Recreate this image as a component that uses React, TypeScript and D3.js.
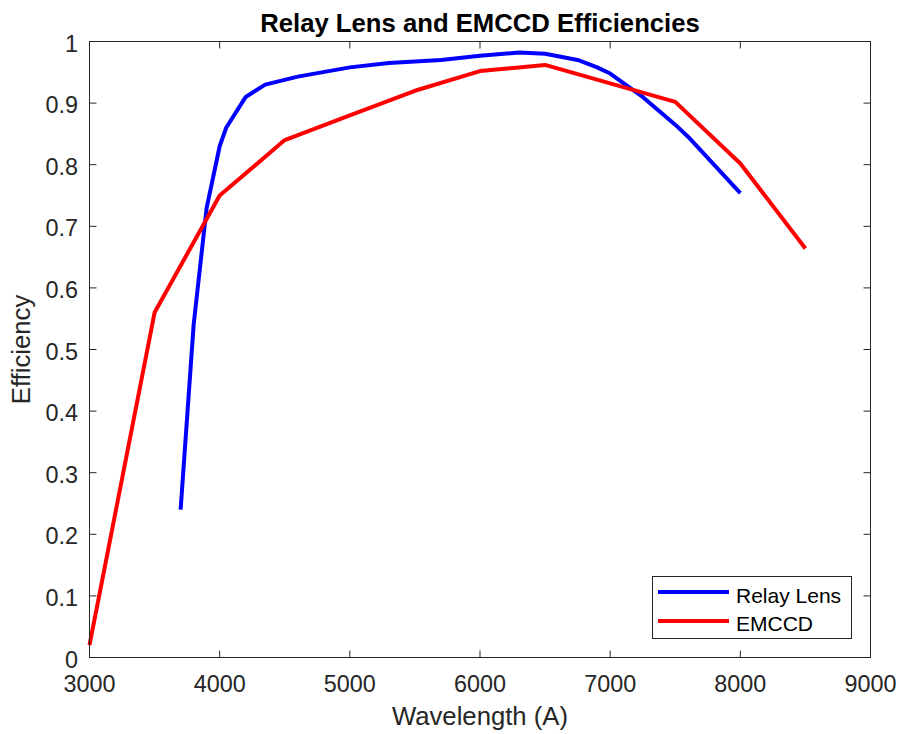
import React from "react";
import * as d3 from "d3";

const relayWavelength = [3700, 3800, 3900, 4000, 4050, 4200, 4350, 4600, 5000, 5300, 5700, 6000, 6300, 6500, 6750, 6900, 7000, 7250, 7500, 7600, 8000];
const relayEfficiency = [0.24, 0.54, 0.73, 0.83, 0.86, 0.91, 0.93, 0.943, 0.958, 0.965, 0.970, 0.977, 0.982, 0.980, 0.970, 0.958, 0.948, 0.91, 0.865, 0.845, 0.754];

const emccdWavelength = [3000, 3500, 4000, 4500, 5000, 5500, 6000, 6500, 7500, 8000, 8500];
const emccdEfficiency = [0.02, 0.56, 0.75, 0.84, 0.88, 0.92, 0.952, 0.962, 0.902, 0.802, 0.664];

const xTicks = [3000, 4000, 5000, 6000, 7000, 8000, 9000];
const yTicks = [0, 0.1, 0.2, 0.3, 0.4, 0.5, 0.6, 0.7, 0.8, 0.9, 1];

const seriesNames = ["Relay Lens", "EMCCD"];
const seriesColors = ["#0000FF", "#FF0000"];

const W = 899;
const H = 734;
const left = 89.5;
const right = 870.5;
const top = 41.5;
const bottom = 657.5;
const axisColor = "#262626";
const font = "'Liberation Sans', Arial, Helvetica, sans-serif";

export default function App() {
  const x = d3.scaleLinear().domain([3000, 9000]).range([left, right]);
  const y = d3.scaleLinear().domain([0, 1]).range([bottom, top]);
  const line = d3
    .line<[number, number]>()
    .x((d) => x(d[0]))
    .y((d) => y(d[1]));

  const relay: [number, number][] = relayWavelength.map((w, i) => [w, relayEfficiency[i]]);
  const emccd: [number, number][] = emccdWavelength.map((w, i) => [w, emccdEfficiency[i]]);
  const tickLen = 7;

  const legX = 652.5;
  const legY = 576.5;
  const legW = 199;
  const legH = 62;

  return (
    <div style={{ position: "fixed", left: 0, top: 0, width: W, height: H, overflow: "hidden" }}>
      <svg width={W} height={H} style={{ display: "block", background: "#fff" }} fontFamily={font}>
        <rect x={0} y={0} width={W} height={H} fill="#fff" />
        {/* series */}
        <path d={line(relay) || ""} fill="none" stroke={seriesColors[0]} strokeWidth={4} strokeLinejoin="round" />
        <path d={line(emccd) || ""} fill="none" stroke={seriesColors[1]} strokeWidth={4} strokeLinejoin="round" />

        {/* axes box */}
        <rect x={left} y={top} width={right - left} height={bottom - top} fill="none" stroke={axisColor} strokeWidth={1} />
        {xTicks.map((t) => (
          <g key={"xt" + t}>
            <line x1={x(t)} x2={x(t)} y1={bottom} y2={bottom - tickLen} stroke={axisColor} />
            <line x1={x(t)} x2={x(t)} y1={top} y2={top + tickLen} stroke={axisColor} />
            <text x={x(t)} y={bottom + 26} fontSize={23.4} fill={axisColor} textAnchor="middle" dominantBaseline="central">
              {t}
            </text>
          </g>
        ))}
        {yTicks.map((t) => (
          <g key={"yt" + t}>
            <line x1={left} x2={left + tickLen} y1={y(t)} y2={y(t)} stroke={axisColor} />
            <line x1={right} x2={right - tickLen} y1={y(t)} y2={y(t)} stroke={axisColor} />
            <text x={78} y={y(t) + 2} fontSize={23.4} fill={axisColor} textAnchor="end" dominantBaseline="central">
              {String(t)}
            </text>
          </g>
        ))}

        {/* title and labels */}
        <text x={(left + right) / 2} y={32} fontSize={25.7} fontWeight="bold" fill="#000" textAnchor="middle">
          Relay Lens and EMCCD Efficiencies
        </text>
        <text x={(left + right) / 2} y={725} fontSize={25.7} fill={axisColor} textAnchor="middle">
          Wavelength (A)
        </text>
        <text
          transform={`translate(${30}, ${(top + bottom) / 2}) rotate(-90)`}
          fontSize={25.7}
          fill={axisColor}
          textAnchor="middle"
        >
          Efficiency
        </text>

        {/* legend */}
        <rect x={legX} y={legY} width={legW} height={legH} fill="#fff" stroke={axisColor} strokeWidth={1} />
        {seriesNames.map((name, i) => (
          <g key={name}>
            <line x1={658} x2={729} y1={592 + i * 29} y2={592 + i * 29} stroke={seriesColors[i]} strokeWidth={4} />
            <text x={736} y={595 + i * 28.5} fontSize={21} fill="#000" dominantBaseline="central">
              {name}
            </text>
          </g>
        ))}
      </svg>
    </div>
  );
}
